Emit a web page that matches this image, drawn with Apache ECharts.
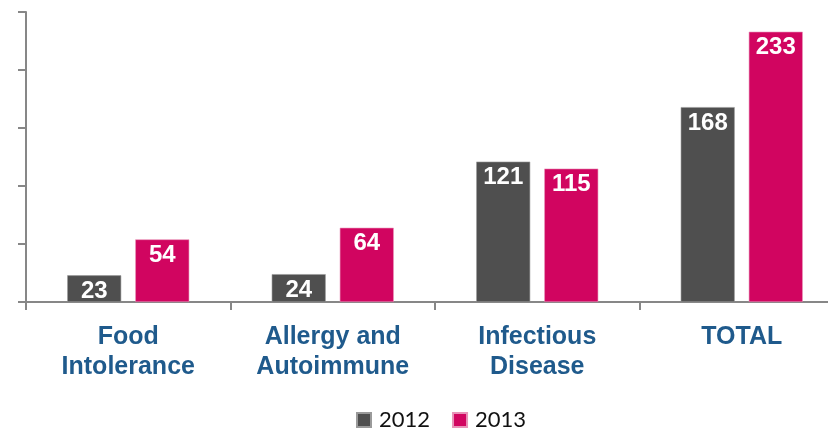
<!DOCTYPE html>
<html>
<head>
<meta charset="utf-8">
<script src="https://cdn.jsdelivr.net/npm/echarts@6/dist/echarts.min.js"></script>
<style>
  html, body { margin: 0; padding: 0; background: #ffffff; }
  #chart { width: 828px; height: 431px; }
</style>
</head>
<body>
<div id="chart"></div>
<script>
// Categories and yearly counts
const categories = ['Food\nIntolerance', 'Allergy and\nAutoimmune', 'Infectious\nDisease', 'TOTAL'];
const values2012 = [23, 24, 121, 168];
const values2013 = [54, 64, 115, 233];
const seriesNames = ['2012', '2013'];

const axisGray = '#878787';
const barLabel = {
  show: true,
  position: 'insideTop',
  distance: 4,
  color: '#ffffff',
  fontFamily: 'Liberation Sans, Arial, sans-serif',
  fontWeight: 'bold',
  fontSize: 24
};

const chart = echarts.init(document.getElementById('chart'), null, { renderer: 'canvas' });
chart.setOption({
  animation: false,
  backgroundColor: '#ffffff',
  // the plot area runs past the right edge, so the last category is cut off a little
  grid: { left: 26, width: 818, top: 12, bottom: 129, containLabel: false, outerBoundsMode: 'none' },
  legend: {
    left: 351,
    top: 404,
    icon: 'rect',
    itemWidth: 14,
    itemHeight: 14,
    itemGap: 22,
    textStyle: { fontFamily: 'Lato, Liberation Sans, sans-serif', fontSize: 22, color: '#111111', padding: [0, 0, 0, 3] },
    data: seriesNames
  },
  xAxis: {
    type: 'category',
    data: categories,
    axisLine: { lineStyle: { color: axisGray, width: 2 } },
    axisTick: { show: true, length: 8, lineStyle: { color: axisGray, width: 2 } },
    axisLabel: {
      margin: 20,
      color: '#1f5a8c',
      fontFamily: 'Liberation Sans, Arial, sans-serif',
      fontWeight: 'bold',
      fontSize: 25,
      lineHeight: 30,
      interval: 0
    }
  },
  yAxis: {
    type: 'value',
    min: 0,
    max: 250,
    interval: 50,
    axisLine: { show: true, lineStyle: { color: axisGray, width: 2 } },
    axisTick: { show: true, length: 8, lineStyle: { color: axisGray, width: 2 } },
    axisLabel: { show: false },
    splitLine: { show: false }
  },
  series: [
    {
      name: seriesNames[0],
      type: 'bar',
      data: values2012,
      barWidth: 54,
      barGap: '26%',
      itemStyle: { color: '#4f4f4f', borderColor: '#9a9a9a', borderWidth: 0.6 },
      label: barLabel
    },
    {
      name: seriesNames[1],
      type: 'bar',
      data: values2013,
      barWidth: 54,
      itemStyle: { color: '#d10560', borderColor: '#e893b8', borderWidth: 0.6 },
      label: barLabel
    }
  ]
});
</script>
</body>
</html>
